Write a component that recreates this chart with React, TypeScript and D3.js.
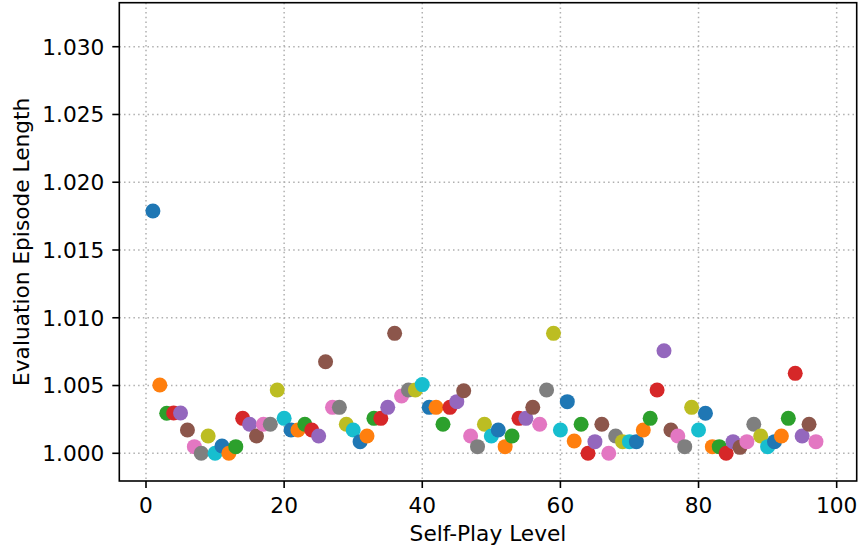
import React from "react";
import * as d3 from "d3";

const levels: number[] = d3.range(1, 98);
const episodeLength: number[] = [
  1.01788, 1.00504, 1.00295, 1.00297, 1.00297, 1.00172, 1.00049, 1.0, 1.00128, 1.0,
  1.00054, 1.0, 1.00049, 1.00258, 1.00214, 1.00128, 1.00214, 1.00214, 1.00467, 1.00258,
  1.00172, 1.00172, 1.00214, 1.00172, 1.00128, 1.00676, 1.00339, 1.00339, 1.00214, 1.00172,
  1.00086, 1.00128, 1.00258, 1.00258, 1.00339, 1.00885, 1.00423, 1.00467, 1.00467, 1.00507,
  1.00339, 1.00339, 1.00214, 1.00339, 1.00381, 1.00462, 1.00128, 1.00049, 1.00214, 1.00128,
  1.00172, 1.00049, 1.00128, 1.00258, 1.00258, 1.00339, 1.00214, 1.00467, 1.00885, 1.00172,
  1.00381, 1.00091, 1.00214, 1.0, 1.00086, 1.00214, 1.0, 1.00128, 1.00086, 1.00086,
  1.00086, 1.00172, 1.00258, 1.00467, 1.00757, 1.00172, 1.00128, 1.00049, 1.00339, 1.00172,
  1.00295, 1.00049, 1.00049, 1.0, 1.00086, 1.00044, 1.00086, 1.00214, 1.00128, 1.00049,
  1.00086, 1.00128, 1.00258, 1.0059, 1.00128, 1.00214, 1.00086,
];
const xTicks: number[] = [0, 20, 40, 60, 80, 100];
const yTicks: number[] = [1.0, 1.005, 1.01, 1.015, 1.02, 1.025, 1.03];
const palette: string[] = [
  "#1f77b4", "#ff7f0e", "#2ca02c", "#d62728", "#9467bd",
  "#8c564b", "#e377c2", "#7f7f7f", "#bcbd22", "#17becf",
];
const xLabel = "Self-Play Level";
const yLabel = "Evaluation Episode Length";

const W = 858;
const H = 550;
const left = 119.3;
const right = 856.7;
const top = 2.7;
const bottom = 481;
const FONT = "'DejaVu Sans', sans-serif";
const FS = 21.7;

export default function App() {
  const x = d3.scaleLinear().domain([-3.866, 102.9]).range([left, right]);
  const y = d3.scaleLinear().domain([0.997956, 1.033247]).range([bottom, top]);
  const fmt = d3.format(".3f");
  const pts = levels.map((l, i) => ({ l, v: episodeLength[i], c: palette[i % 10] }));

  return (
    <svg
      width={W}
      height={H}
      style={{ position: "absolute", left: 0, top: 0, background: "#fff" }}
      fontFamily={FONT}
    >
      <rect x={0} y={0} width={W} height={H} fill="#fff" />
      {/* grid */}
      <g stroke="#b0b0b0" strokeWidth={1.5} strokeDasharray="1.5,3.2">
        {xTicks.map((t) => (
          <line key={"gx" + t} x1={x(t)} x2={x(t)} y1={top} y2={bottom} />
        ))}
        {yTicks.map((t) => (
          <line key={"gy" + t} x1={left} x2={right} y1={y(t)} y2={y(t)} />
        ))}
      </g>
      {/* points */}
      <g>
        {pts.map((p) => (
          <circle key={p.l} cx={x(p.l)} cy={y(p.v)} r={7.5} fill={p.c} />
        ))}
      </g>
      {/* spines */}
      <rect
        x={left}
        y={top}
        width={right - left}
        height={bottom - top}
        fill="none"
        stroke="#000"
        strokeWidth={1.6}
      />
      {/* x ticks */}
      <g>
        {xTicks.map((t) => (
          <g key={"xt" + t}>
            <line x1={x(t)} x2={x(t)} y1={bottom} y2={bottom + 7} stroke="#000" strokeWidth={1.6} />
            <text x={x(t)} y={513} textAnchor="middle" fontSize={FS} fill="#000">
              {t}
            </text>
          </g>
        ))}
      </g>
      {/* y ticks */}
      <g>
        {yTicks.map((t) => (
          <g key={"yt" + t}>
            <line x1={left - 7} x2={left} y1={y(t)} y2={y(t)} stroke="#000" strokeWidth={1.6} />
            <text
              x={left - 15}
              y={y(t)}
              dy="0.36em"
              textAnchor="end"
              fontSize={FS}
              fill="#000"
            >
              {fmt(t)}
            </text>
          </g>
        ))}
      </g>
      <text x={(left + right) / 2} y={541} textAnchor="middle" fontSize={FS} fill="#000">
        {xLabel}
      </text>
      <text
        transform={`translate(28.5, ${(top + bottom) / 2}) rotate(-90)`}
        textAnchor="middle"
        fontSize={FS}
        fill="#000"
      >
        {yLabel}
      </text>
    </svg>
  );
}
